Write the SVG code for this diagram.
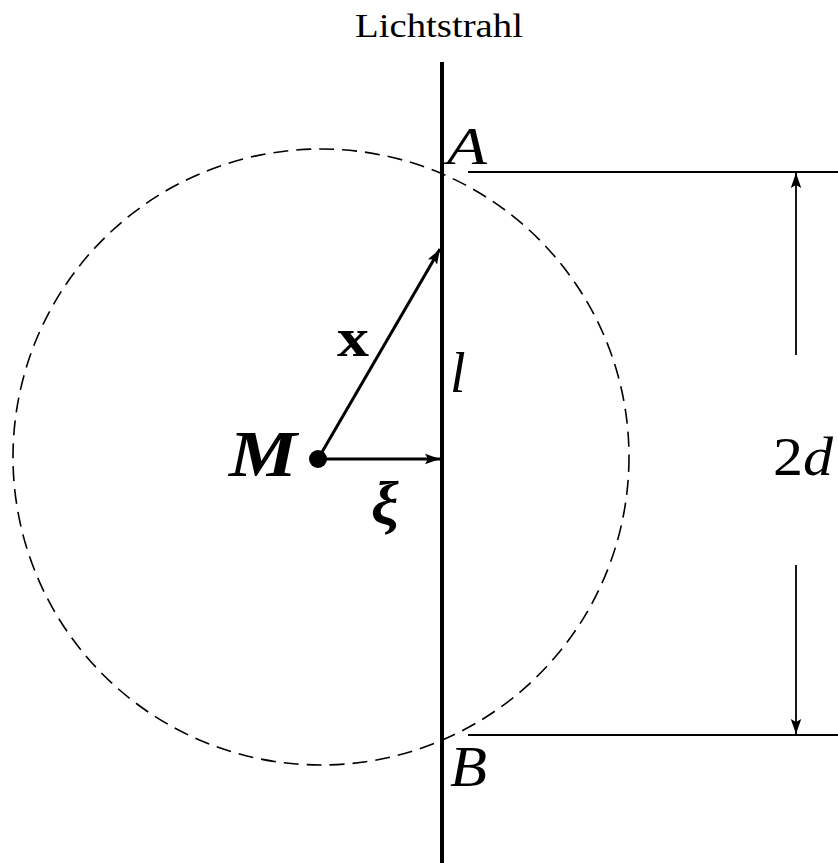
<svg xmlns="http://www.w3.org/2000/svg" width="838" height="863" viewBox="0 0 838 863">
<style>
.t{font-family:"Liberation Serif","DejaVu Serif",serif;fill:#000}
.i{font-style:italic}
.ln{stroke:#000;fill:none}
</style>
<defs>
<marker id="ah2" viewBox="0 0 10 10" refX="10" refY="5" markerWidth="15" markerHeight="15" markerUnits="userSpaceOnUse" orient="auto">
<path d="M0,1.5 L10,5 L0,8.5 L2,5 Z" fill="#000"/>
</marker>
</defs>
<rect width="838" height="863" fill="#fff"/>
<g id="circle">
<circle cx="321" cy="457" r="308" class="ln" stroke-width="1.6" stroke-dasharray="15,8"/>
</g>
<g id="ray">
<line x1="442" y1="62" x2="442" y2="863" class="ln" stroke-width="4"/>
<text x="355" y="37" class="t" font-size="33" textLength="168" lengthAdjust="spacingAndGlyphs">Lichtstrahl</text>
</g>
<g id="connectors">
<line x1="468" y1="172" x2="838" y2="172" class="ln" stroke-width="2"/>
<line x1="468" y1="735" x2="838" y2="735" class="ln" stroke-width="2"/>
<line x1="796" y1="355" x2="796" y2="173" class="ln" stroke-width="1.8" marker-end="url(#ah2)"/>
<line x1="796" y1="565" x2="796" y2="734" class="ln" stroke-width="1.8" marker-end="url(#ah2)"/>
<line x1="318" y1="459" x2="440" y2="249" class="ln" stroke-width="3" marker-end="url(#ah2)"/>
<line x1="318" y1="459" x2="440" y2="459" class="ln" stroke-width="3" marker-end="url(#ah2)"/>
</g>
<g id="M">
<circle cx="318" cy="459" r="9" fill="#000"/>
<text x="229" y="476" class="t i" font-size="66" font-weight="bold" textLength="68" lengthAdjust="spacingAndGlyphs">M</text>
</g>
<g id="A"><text x="447" y="164" class="t i" font-size="52" textLength="40" lengthAdjust="spacingAndGlyphs">A</text></g>
<g id="B"><text x="450" y="786" class="t i" font-size="56" textLength="37" lengthAdjust="spacingAndGlyphs">B</text></g>
<g id="x"><text x="337" y="356" class="t" font-size="54" font-weight="bold" textLength="32" lengthAdjust="spacingAndGlyphs">x</text></g>
<g id="l"><text x="450" y="392" class="t i" font-size="56">l</text></g>
<g id="xi"><text x="371" y="524" class="t i" font-size="62" font-weight="bold">ξ</text></g>
<g id="d2"><text x="773" y="475" class="t" font-size="54" textLength="60" lengthAdjust="spacingAndGlyphs">2<tspan font-style="italic">d</tspan></text></g>
</svg>
